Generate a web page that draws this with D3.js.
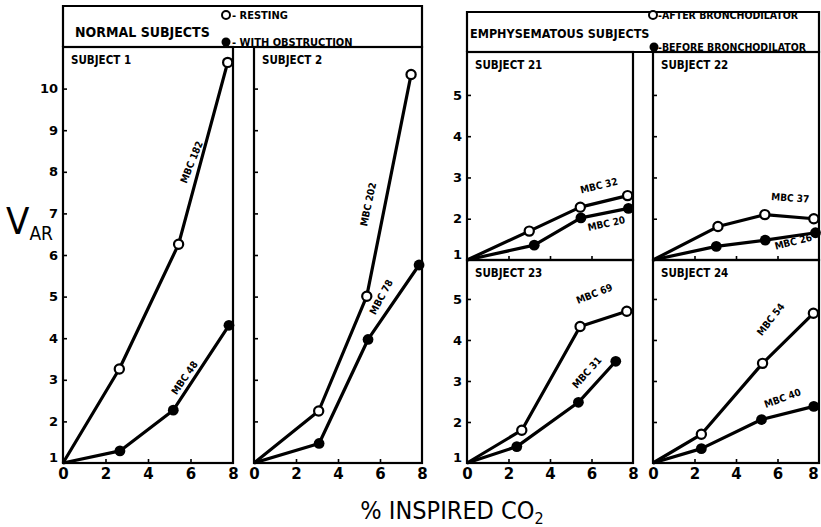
<!DOCTYPE html>
<html>
<head>
<meta charset="utf-8">
<script src="https://cdn.jsdelivr.net/npm/d3@7"></script>
<style>
  body { margin: 0; background: #fff; }
  svg { display: block; }
  .tick line { stroke: #000; stroke-width: 1.6; }
  .tick text { font-family: "DejaVu Sans", sans-serif; font-weight: bold; fill: #000; }
</style>
</head>
<body>
<div id="chart"></div>
<script>
// ---- data ----
var xTicks = [0, 2, 4, 6, 8];
var yTicksNormal = [1, 2, 3, 4, 5, 6, 7, 8, 9, 10];
var yTicksEmph = [1, 2, 3, 4, 5];

var subjectNames = ["SUBJECT 1", "SUBJECT 2", "SUBJECT 21", "SUBJECT 22", "SUBJECT 23", "SUBJECT 24"];

// [ % inspired CO2, VAR ]
var s1Open   = [[0, 1], [2.65, 3.26], [5.44, 6.26], [7.75, 10.63]];
var s1Filled = [[0, 1], [2.68, 1.29], [5.19, 2.27], [7.81, 4.31]];
var s2Open   = [[0, 1], [3.08, 2.25], [5.37, 5.01], [7.48, 10.34]];
var s2Filled = [[0, 1], [3.10, 1.47], [5.43, 3.97], [7.86, 5.76]];
var s21Open   = [[0, 1], [3.00, 1.70], [5.46, 2.28], [7.74, 2.56]];
var s21Filled = [[0, 1], [3.24, 1.36], [5.49, 2.02], [7.78, 2.25]];
var s22Open   = [[0, 1], [3.13, 1.81], [5.39, 2.10], [7.75, 2.00]];
var s22Filled = [[0, 1], [3.05, 1.33], [5.41, 1.48], [7.83, 1.66]];
var s23Open   = [[0, 1], [2.64, 1.80], [5.45, 4.33], [7.70, 4.70]];
var s23Filled = [[0, 1], [2.40, 1.40], [5.37, 2.48], [7.17, 3.48]];
var s24Open   = [[0, 1], [2.33, 1.70], [5.28, 3.43], [7.73, 4.65]];
var s24Filled = [[0, 1], [2.33, 1.35], [5.23, 2.06], [7.75, 2.38]];

// MBC labels: text, x, y (data units), angle
var s1Labels  = [["MBC 182", 6.2, 8.2, -68], ["MBC 48", 5.85, 3.0, -55]];
var s2Labels  = [["MBC 202", 5.6, 7.2, -78], ["MBC 78", 6.2, 4.95, -62]];
var s21Labels = [["MBC 32", 6.4, 2.72, -14], ["MBC 20", 6.75, 1.80, -12]];
var s22Labels = [["MBC 37", 6.6, 2.42, 4], ["MBC 26", 6.8, 1.36, -14]];
var s23Labels = [["MBC 69", 6.2, 5.05, -22], ["MBC 31", 5.9, 3.15, -48]];
var s24Labels = [["MBC 54", 5.8, 4.45, -52], ["MBC 40", 6.3, 2.5, -20]];

// ---- layout ----
var W = 821, H = 527;
var svg = d3.select("#chart").append("svg").attr("width", W).attr("height", H);

var panels = [
  {name: subjectNames[0], open: s1Open, filled: s1Filled, labels: s1Labels,
   x0: 63, x1: 233, top: 47, bot: 463, yMax: 11, yTicks: yTicksNormal, yLab: true, xLab: true},
  {name: subjectNames[1], open: s2Open, filled: s2Filled, labels: s2Labels,
   x0: 254, x1: 422, top: 47, bot: 463, yMax: 11, yTicks: yTicksNormal, yLab: false, xLab: true},
  {name: subjectNames[2], open: s21Open, filled: s21Filled, labels: s21Labels,
   x0: 467, x1: 633, top: 52, bot: 260, yMax: 6.04, yTicks: yTicksEmph, yLab: true, xLab: false},
  {name: subjectNames[3], open: s22Open, filled: s22Filled, labels: s22Labels,
   x0: 653, x1: 819, top: 52, bot: 260, yMax: 6.04, yTicks: yTicksEmph, yLab: false, xLab: false},
  {name: subjectNames[4], open: s23Open, filled: s23Filled, labels: s23Labels,
   x0: 467, x1: 633, top: 260, bot: 463, yMax: 5.95, yTicks: yTicksEmph, yLab: true, xLab: true},
  {name: subjectNames[5], open: s24Open, filled: s24Filled, labels: s24Labels,
   x0: 653, x1: 819, top: 260, bot: 463, yMax: 5.95, yTicks: yTicksEmph, yLab: false, xLab: true}
];

var labelFont = '"DejaVu Sans Condensed", "DejaVu Sans", sans-serif';

panels.forEach(function(p) {
  var x = d3.scaleLinear().domain([0, 8]).range([p.x0, p.x1]);
  var y = d3.scaleLinear().domain([1, p.yMax]).range([p.bot, p.top]);
  var g = svg.append("g");

  // frame
  g.append("rect")
    .attr("x", p.x0).attr("y", p.top)
    .attr("width", p.x1 - p.x0).attr("height", p.bot - p.top)
    .attr("fill", "none").attr("stroke", "#000").attr("stroke-width", 2.2);

  // x axis
  var xa = d3.axisBottom(x).tickValues(xTicks).tickSize(-4).tickPadding(5)
    .tickFormat(p.xLab ? d3.format("d") : "");
  var gx = g.append("g").attr("transform", "translate(0," + p.bot + ")").call(xa);
  gx.select(".domain").remove();
  gx.selectAll(".tick").filter(function(d) { return d === 0 || d === 8; }).select("line").remove();
  gx.selectAll("text").style("font-size", "15px");
  if (p.x1 > 800) {
    gx.selectAll(".tick").filter(function(d) { return d === 8; }).select("text")
      .attr("text-anchor", "end").attr("dx", "-0.05em");
  }

  // y axis
  var ya = d3.axisLeft(y).tickValues(p.yTicks).tickSize(-4).tickPadding(5)
    .tickFormat(p.yLab ? d3.format("d") : "");
  var gy = g.append("g").attr("transform", "translate(" + p.x0 + ",0)").call(ya);
  gy.select(".domain").remove();
  gy.selectAll(".tick").filter(function(d) { return d === 1; }).select("line").remove();
  gy.selectAll("text").style("font-size", "13px")
    .attr("dy", function(d) { return d === 1 ? "-0.15em" : "0.32em"; });

  // subject name
  g.append("text")
    .attr("x", p.x0 + 8).attr("y", p.top + 17)
    .style("font-family", labelFont).style("font-weight", "bold").style("font-size", "11.5px")
    .text(p.name);

  var line = d3.line().x(function(d) { return x(d[0]); }).y(function(d) { return y(d[1]); });

  [p.open, p.filled].forEach(function(s) {
    g.append("path").datum(s)
      .attr("fill", "none").attr("stroke", "#000").attr("stroke-width", 3.2)
      .attr("stroke-linejoin", "round")
      .attr("d", line);
  });

  g.selectAll(".open").data(p.open.slice(1)).enter().append("circle")
    .attr("cx", function(d) { return x(d[0]); }).attr("cy", function(d) { return y(d[1]); })
    .attr("r", 4.6).attr("fill", "#fff").attr("stroke", "#000").attr("stroke-width", 2.2);
  g.selectAll(".filled").data(p.filled.slice(1)).enter().append("circle")
    .attr("cx", function(d) { return x(d[0]); }).attr("cy", function(d) { return y(d[1]); })
    .attr("r", 5.4).attr("fill", "#000");

  p.labels.forEach(function(l) {
    g.append("text")
      .attr("transform", "translate(" + x(l[1]) + "," + y(l[2]) + ") rotate(" + l[3] + ")")
      .attr("text-anchor", "middle")
      .style("font-family", labelFont).style("font-weight", "bold").style("font-size", "10px")
      .text(l[0]);
  });
});

// ---- header boxes ----
function header(x0, x1, top, bot) {
  svg.append("path")
    .attr("d", "M" + x0 + "," + bot + "V" + top + "H" + x1 + "V" + bot + "H" + x0)
    .attr("fill", "none").attr("stroke", "#000").attr("stroke-width", 2.2);
}
header(63, 422, 6, 47);
header(467, 819, 12, 52);

function htext(x, y, t, size) {
  svg.append("text").attr("x", x).attr("y", y)
    .style("font-family", labelFont).style("font-weight", "bold").style("font-size", size + "px")
    .text(t);
}
htext(75, 37, "NORMAL  SUBJECTS", 14);
svg.append("circle").attr("cx", 226).attr("cy", 15).attr("r", 4)
  .attr("fill", "#fff").attr("stroke", "#000").attr("stroke-width", 2);
htext(232, 19, "- RESTING", 11);
svg.append("circle").attr("cx", 226).attr("cy", 42).attr("r", 4.5).attr("fill", "#000");
htext(232, 46, "- WITH  OBSTRUCTION", 11);

htext(470, 38, "EMPHYSEMATOUS SUBJECTS", 12.5);
svg.append("circle").attr("cx", 653).attr("cy", 15).attr("r", 4)
  .attr("fill", "#fff").attr("stroke", "#000").attr("stroke-width", 2);
htext(658, 19, "-AFTER  BRONCHODILATOR", 10.5);
svg.append("circle").attr("cx", 654).attr("cy", 47).attr("r", 4.5).attr("fill", "#000");
htext(658, 51, "-BEFORE  BRONCHODILATOR", 10.5);

// ---- axis titles ----
var vt = svg.append("text").attr("x", 6).attr("y", 234)
  .style("font-family", '"Liberation Sans Narrow", "DejaVu Sans Condensed", sans-serif');
vt.append("tspan").style("font-size", "38px").text("V");
vt.append("tspan").attr("dy", 6).style("font-size", "19px").text("AR");

var xt = svg.append("text").attr("x", 452).attr("y", 519).attr("text-anchor", "middle")
  .style("font-family", '"Liberation Sans Narrow", "DejaVu Sans Condensed", sans-serif')
  .style("font-size", "25px");
xt.append("tspan").text("% INSPIRED  CO");
xt.append("tspan").attr("dy", 5).style("font-size", "16px").text("2");
</script>
</body>
</html>
